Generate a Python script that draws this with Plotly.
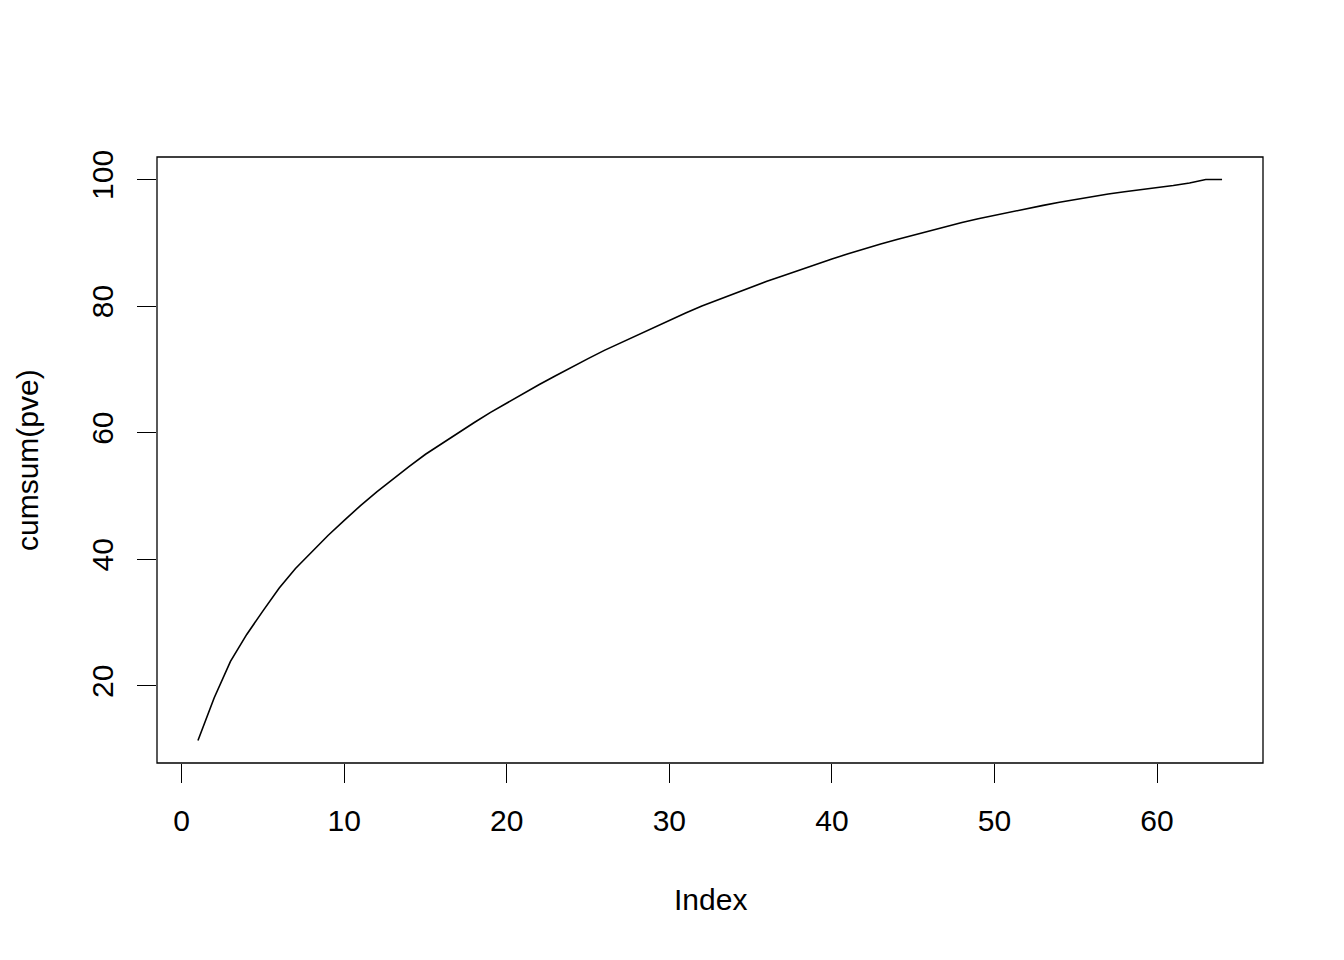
"""Cumulative proportion of variance explained, drawn like base R plot()."""

import plotly.graph_objects as go

# principal component index and cumulative PVE (percent)
index = list(range(1, 65))
cum_pve = [
    11.36, 18.12, 23.87, 28.12, 31.85, 35.47, 38.53, 41.22, 43.75, 46.13,
    48.48, 50.65, 52.70, 54.67, 56.59, 58.30, 60.00, 61.60, 63.20, 64.70,
    66.20, 67.60, 69.00, 70.40, 71.70, 73.00, 74.20, 75.40, 76.60, 77.75,
    78.90, 80.00, 81.00, 82.00, 82.95, 83.90, 84.80, 85.70, 86.60, 87.45,
    88.25, 89.05, 89.80, 90.50, 91.20, 91.90, 92.55, 93.20, 93.80, 94.35,
    94.90, 95.40, 95.90, 96.40, 96.85, 97.30, 97.70, 98.05, 98.35, 98.70,
    99.05, 99.45, 100.00, 100.00,
]
x_ticks = [0, 10, 20, 30, 40, 50, 60]
y_ticks = [20, 40, 60, 80, 100]

FONT = "Liberation Sans, Arial, sans-serif"
FONT_SIZE = 30

fig = go.Figure()
fig.add_trace(
    go.Scatter(
        x=index,
        y=cum_pve,
        mode="lines",
        line={"color": "black", "width": 1.6},
        hoverinfo="skip",
        showlegend=False,
    )
)

# R pads the data range by 4% on each side
x_pad = (max(index) - min(index)) * 0.04
y_pad = (max(cum_pve) - min(cum_pve)) * 0.04

axis_style = dict(
    ticks="outside",
    ticklen=19,
    tickwidth=1.3,
    tickcolor="black",
    ticklabelstandoff=12,
    showgrid=False,
    zeroline=False,
    showline=False,
    tickfont={"size": FONT_SIZE, "color": "black", "family": FONT},
)
fig.update_xaxes(
    range=[min(index) - x_pad, max(index) + x_pad],
    tickvals=x_ticks,
    **axis_style,
)
fig.update_yaxes(
    range=[min(cum_pve) - y_pad, max(cum_pve) + y_pad],
    tickvals=y_ticks,
    tickangle=-90,
    **axis_style,
)

# plot box
fig.add_shape(
    type="rect",
    xref="paper",
    yref="paper",
    x0=0,
    x1=1,
    y0=0,
    y1=1,
    line={"color": "black", "width": 1.3},
)

fig.add_annotation(
    text="Index",
    x=0.5,
    y=-0.226,
    xref="paper",
    yref="paper",
    xanchor="center",
    yanchor="middle",
    showarrow=False,
    font={"size": FONT_SIZE, "color": "black", "family": FONT},
)
fig.add_annotation(
    text="cumsum(pve)",
    x=-0.1175,
    y=0.5,
    xref="paper",
    yref="paper",
    xanchor="center",
    yanchor="middle",
    textangle=-90,
    showarrow=False,
    font={"size": FONT_SIZE, "color": "black", "family": FONT},
)

# the page body adds an 8px offset, so margins are trimmed to land the box
# at the same pixels as the reference
fig.update_layout(
    width=1344,
    height=960,
    margin={"l": 149, "r": 89, "t": 149, "b": 205},
    paper_bgcolor="white",
    plot_bgcolor="white",
)

fig.write_html("out.html")
